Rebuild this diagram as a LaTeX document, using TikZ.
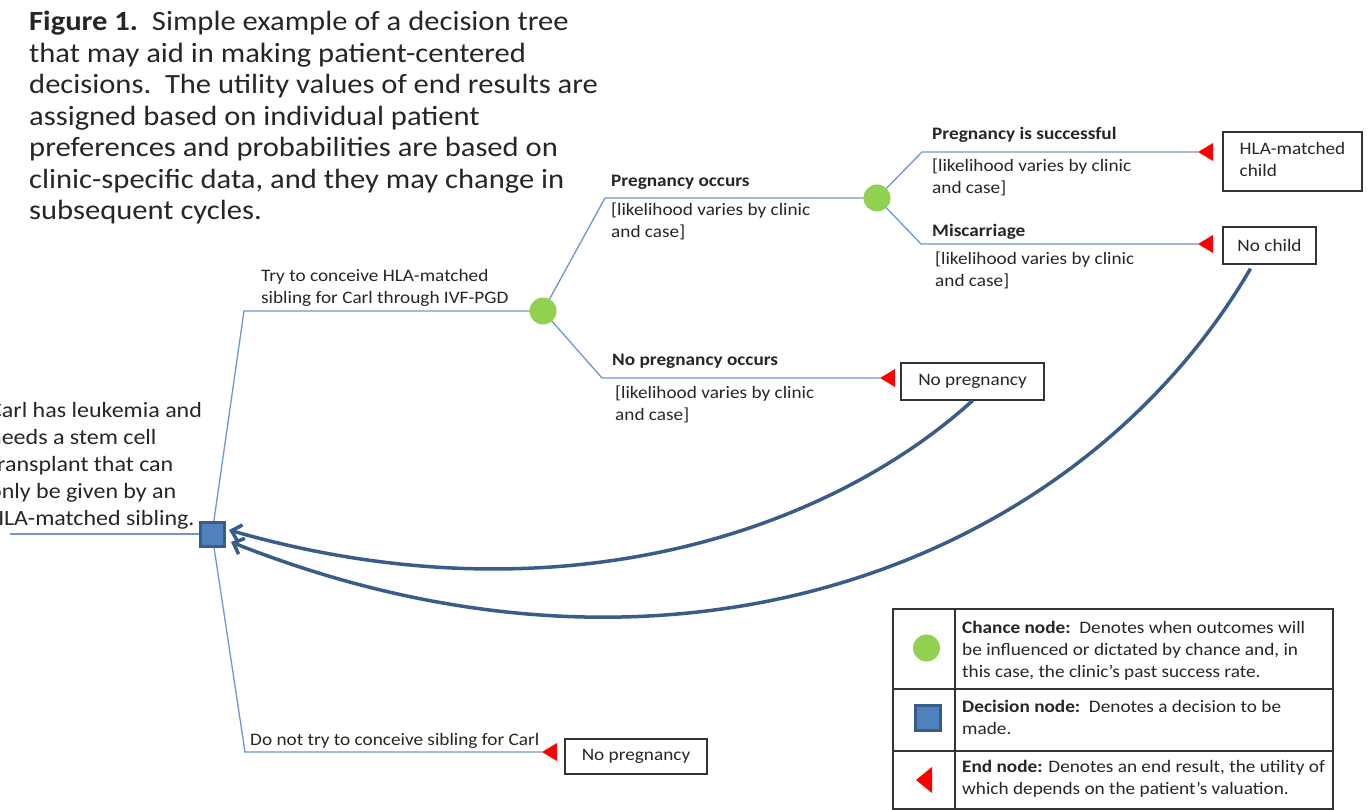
\documentclass[tikz,border=0pt]{standalone}
\usepackage{fontspec}
\setmainfont{Carlito}[FakeStretch=1.1]
\usetikzlibrary{arrows.meta,calc}
\definecolor{treeblue}{RGB}{110,150,212}
\definecolor{curveblue}{RGB}{56,93,138}
\definecolor{decfill}{RGB}{79,129,189}
\definecolor{decdraw}{RGB}{56,93,138}
\definecolor{chgreen}{RGB}{146,208,80}
\definecolor{endred}{RGB}{255,0,0}
\definecolor{txt}{RGB}{38,38,38}
\newcommand\fsz[2]{\fontsize{#1}{#2}\selectfont}
\newcommand\mlines[1]{\begin{tabular}[t]{@{}l@{}}#1\end{tabular}}
\begin{document}
\begin{tikzpicture}[x=1pt,y=-1pt,
  tree/.style={draw=treeblue,line width=1.3pt},
  back/.style={draw=curveblue,line width=3.5pt,-{Straight Barb[length=9pt,width=17pt]}},
  decision/.style={rectangle,fill=decfill,draw=decdraw,line width=3pt,minimum size=24pt,inner sep=0},
  chance/.style={circle,fill=chgreen,minimum size=27pt,inner sep=0},
  lbl/.style={anchor=base west,inner sep=0,text=txt,font=\fsz{17.5}{22}},
  outbox/.style={draw=black!80,line width=1.3pt,inner sep=0,text=txt,font=\fsz{17.5}{22}},
  legline/.style={draw=black!80,line width=1.3pt},
  endtri/.pic={\fill[endred] (0,0) -- (15,-9) -- (15,9) -- cycle;},
]
\useasboundingbox (0,0) rectangle (1368,810);
\fill[white] (0,0) rectangle (1368,810);

% title
\node[anchor=base west,inner sep=0,text=txt,font=\fsz{27.8}{31.5}] (title) at (29,31)
  {\mlines{\textbf{Figure 1.}\ \ Simple example of a decision tree\\
   that may aid in making patient-centered\\
   decisions.\ \ The utility values of end results are\\
   assigned based on individual patient\\
   preferences and probabilities are based on\\
   clinic-specific data, and they may change in\\
   subsequent cycles.}};

% left text
\node[anchor=base west,inner sep=0,text=txt,font=\fsz{21.8}{27}] (carl) at (-11,417)
  {\mlines{Carl has leukemia and\\needs a stem cell\\transplant that can\\only be given by an\\HLA-matched sibling.}};

% coordinates
\coordinate (L) at (10,534);
\coordinate (D) at (212,534);
\coordinate (C1) at (543,311);
\coordinate (C2) at (877,198);
\coordinate (k1) at (244,311);
\coordinate (k2) at (605,198);
\coordinate (k3) at (922,152);
\coordinate (k4) at (921,244);
\coordinate (k5) at (602,378);
\coordinate (k6) at (245,752);
\coordinate (T1) at (1198,152);
\coordinate (T2) at (1198,244);
\coordinate (T3) at (880,378);
\coordinate (T4) at (542,752);

% tree lines
\draw[tree] (L) -- (D);
\draw[tree] (D) -- (k1) -- (C1);
\draw[tree] (D) -- (k6) -- (T4);
\draw[tree] (C1) -- (k2) -- (C2);
\draw[tree] (C1) -- (k5) -- (T3);
\draw[tree] (C2) -- (k3) -- (T1);
\draw[tree] (C2) -- (k4) -- (T2);

% nodes
\node[decision] (dec) at (D) {};
\node[chance] (c1) at (C1) {};
\node[chance] (c2) at (C2) {};
\pic at (T1) {endtri};
\pic at (T2) {endtri};
\pic at (T3) {endtri};
\pic at (T4) {endtri};

% end boxes
\node[outbox,minimum width=139pt,minimum height=59pt] (hla) at (1292.5,161.5) {\mlines{HLA-matched\\child}};
\node[outbox,minimum width=93pt,minimum height=37pt] (nc) at (1269.5,245.5) {No child};
\node[outbox,minimum width=143pt,minimum height=37pt] (np1) at (972.5,381.5) {No pregnancy};
\node[outbox,minimum width=142pt,minimum height=35pt] (np2) at (636,756.5) {No pregnancy};

% branch labels
\node[lbl] (ltry) at (261,282) {\mlines{Try to conceive HLA-matched\\sibling for Carl through IVF-PGD}};
\node[lbl] (lpo) at (611,187) {\textbf{Pregnancy occurs}};
\node[lbl] (lpop) at (611,216) {\mlines{[likelihood varies by clinic\\and case]}};
\node[lbl] (lps) at (932,140) {\textbf{Pregnancy is successful}};
\node[lbl] (lpsp) at (932,172) {\mlines{[likelihood varies by clinic\\and case]}};
\node[lbl] (lmc) at (932,237) {\textbf{Miscarriage}};
\node[lbl] (lmcp) at (935,265) {\mlines{[likelihood varies by clinic\\and case]}};
\node[lbl] (lnp) at (612,365) {\textbf{No pregnancy occurs}};
\node[lbl] (lnpp) at (615,398) {\mlines{[likelihood varies by clinic\\and case]}};
\node[lbl] (ldn) at (250,745) {Do not try to conceive sibling for Carl};

% back arrows
\coordinate (a1) at (229,530);
\coordinate (a2) at (231,542);
\coordinate (s2) at ($(nc.south)+(-19,4)$);
\draw[back] (np1.south) .. controls (830,530) and (560,625) .. (a1);
\draw[back] (s2) .. controls (1080,560) and (680,720) .. (a2);

% legend
\draw[legline] (893,609) rectangle (1333,809);
\draw[legline] (955,609) -- (955,809);
\draw[legline] (893,689) -- (1333,689);
\draw[legline] (893,751) -- (1333,751);
\node[chance] (lgc) at (926.5,648) {};
\node[decision,minimum size=25pt] (lgd) at (928,718) {};
\fill[endred] (916,780) -- (932,767) -- (932,793) -- cycle;
\node[lbl] (lgt1) at (962,633) {\mlines{\textbf{Chance node:}\ \ Denotes when outcomes will\\be influenced or dictated by chance and, in\\this case, the clinic’s past success rate.}};
\node[lbl] (lgt2) at (962,712) {\mlines{\textbf{Decision node:}\ \ Denotes a decision to be\\made.}};
\node[lbl] (lgt3) at (962,772) {\mlines{\textbf{End node:} Denotes an end result, the utility of\\which depends on the patient’s valuation.}};
\end{tikzpicture}
\end{document}
